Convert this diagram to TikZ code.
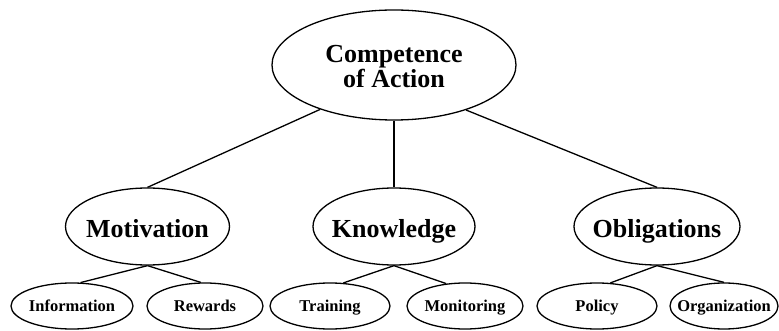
\documentclass[tikz,border=0pt]{standalone}
\usepackage{fontspec}
\setmainfont{Liberation Serif}
\usetikzlibrary{shapes.geometric}

\tikzset{
  oval/.style={ellipse, draw, line width=1.3pt, inner sep=0pt},
  bigtext/.style={font=\fontsize{26}{25}\selectfont\bfseries, align=center, yshift=-2pt},
  midtext/.style={font=\fontsize{26}{28}\selectfont\bfseries,
                  text height=17pt, text depth=0pt, yshift=-2.5pt},
  smalltext/.style={font=\fontsize{16.5}{18}\selectfont\bfseries,
                    text height=11pt, text depth=0pt},
  link/.style={line width=1.3pt}
}

\begin{document}
\begin{tikzpicture}[x=1pt, y=-1pt]
  \useasboundingbox (0,0) rectangle (779,331);

  % root
  \node[oval, minimum width=244pt, minimum height=110pt,
        label={[bigtext]center:Competence\\of Action}] (root) at (394,65) {};

  % second level
  \node[oval, minimum width=164pt, minimum height=77pt,
        label={[midtext]center:Motivation}] (mot) at (147.5,226.5) {};
  \node[oval, minimum width=162pt, minimum height=77pt,
        label={[midtext]center:Knowledge}] (kno) at (394,226.5) {};
  \node[oval, minimum width=166pt, minimum height=77pt,
        label={[midtext]center:Obligations}] (obl) at (657,226.5) {};

  % leaves
  \node[oval, minimum width=122pt, minimum height=46pt,
        label={[smalltext]center:Information}] (info) at (72,306) {};
  \node[oval, minimum width=116pt, minimum height=46pt,
        label={[smalltext]center:Rewards}] (rew) at (205,306) {};
  \node[oval, minimum width=120pt, minimum height=46pt,
        label={[smalltext]center:Training}] (tra) at (330,306) {};
  \node[oval, minimum width=116pt, minimum height=46pt,
        label={[smalltext]center:Monitoring}] (mon) at (465,306) {};
  \node[oval, minimum width=120pt, minimum height=46pt,
        label={[smalltext]center:Policy}] (pol) at (597,306) {};
  \node[oval, minimum width=108pt, minimum height=46pt,
        label={[smalltext]center:Organization}] (org) at (724,306) {};

  % connectors
  \draw[link] (root.211) -- (mot.north);
  \draw[link] (root.south) -- (kno.north);
  \draw[link] (root.328) -- (obl.north);

  \draw[link] (mot.south) -- (info.70);
  \draw[link] (mot.south) -- (rew.100);
  \draw[link] (kno.south) -- (tra.60);
  \draw[link] (kno.south) -- (mon.130);
  \draw[link] (obl.south) -- (pol.60);
  \draw[link] (obl.south) -- (org.90);
\end{tikzpicture}
\end{document}
